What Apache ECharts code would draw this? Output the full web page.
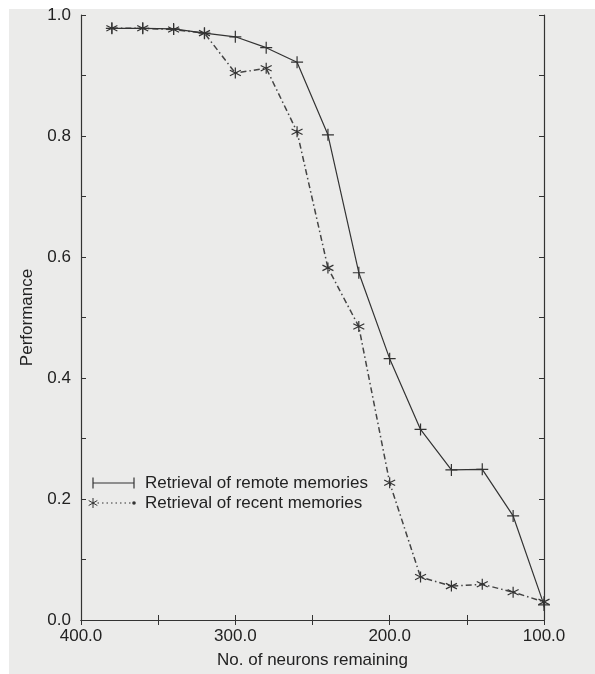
<!DOCTYPE html>
<html>
<head>
<meta charset="utf-8">
<script src="https://cdn.jsdelivr.net/npm/echarts@6/dist/echarts.min.js"></script>
<style>
  html, body { margin: 0; padding: 0; background: #ffffff; }
  #chart { width: 595px; height: 674px; }
</style>
</head>
<body>
<div id="chart"></div>
<script>
// Neurons remaining (x) and retrieval performance (y) for each condition
const neurons = [380, 360, 340, 320, 300, 280, 260, 240, 220, 200, 180, 160, 140, 120, 100];
const remoteMemories = [0.978, 0.978, 0.977, 0.970, 0.964, 0.946, 0.922, 0.802, 0.574, 0.432, 0.315, 0.248, 0.249, 0.172, 0.025];
const recentMemories = [0.978, 0.978, 0.976, 0.970, 0.904, 0.912, 0.807, 0.582, 0.485, 0.227, 0.071, 0.056, 0.059, 0.046, 0.030];
const seriesNames = ['Retrieval of remote memories', 'Retrieval of recent memories'];

const ink = '#333333';
const textInk = '#222222';
const font = '"Liberation Sans", Arial, Helvetica, sans-serif';
const fontSize = 17;

// plus and six-armed asterisk markers (stroked outlines)
const plusPath = 'path://M0,5L10,5M5,0L5,10';
const starPath = 'path://M5,0L5,10M0.67,2.5L9.33,7.5M0.67,7.5L9.33,2.5';

const pairs = (xs, ys) => xs.map((x, i) => [x, ys[i]]);

const chart = echarts.init(document.getElementById('chart'), null, { renderer: 'canvas' });

const tickCommon = { show: true, inside: true, length: 5, lineStyle: { color: ink, width: 1 } };
const minorCommon = { show: true, splitNumber: 2, length: 5, lineStyle: { color: ink, width: 1 } };

const seg = (x1, y1, x2, y2, extra) => ({
  type: 'line', shape: { x1, y1, x2, y2 },
  style: Object.assign({ stroke: ink, lineWidth: 1.2 }, extra || {})
});

chart.setOption({
  backgroundColor: '#ffffff',
  animation: false,
  graphic: [
    // paper tone of the page
    { type: 'rect', z: -10, silent: true, shape: { x: 9, y: 9, width: 600, height: 680 }, style: { fill: '#ebebea' } },
    // legend: remote memories
    { type: 'group', x: 88, y: 477, children: [
      seg(5, 6, 46, 6),
      seg(5, 0.5, 5, 11.5),
      seg(46, 0.5, 46, 11.5),
      { type: 'text', x: 57, y: 6, style: { text: seriesNames[0], fill: textInk, font: fontSize + 'px ' + font, verticalAlign: 'middle' } }
    ] },
    // legend: recent memories
    { type: 'group', x: 88, y: 497, children: [
      seg(5, 6, 46, 6, { lineDash: [1.5, 3] }),
      seg(5, 1, 5, 11, { lineWidth: 1 }),
      seg(0.67, 3.5, 9.33, 8.5, { lineWidth: 1 }),
      seg(0.67, 8.5, 9.33, 3.5, { lineWidth: 1 }),
      { type: 'circle', shape: { cx: 46, cy: 6, r: 1.8 }, style: { fill: ink } },
      { type: 'text', x: 57, y: 6, style: { text: seriesNames[1], fill: textInk, font: fontSize + 'px ' + font, verticalAlign: 'middle' } }
    ] }
  ],
  grid: { left: 81, right: 51, top: 15, bottom: 53, containLabel: false },
  xAxis: [
    {
      type: 'value', inverse: true, min: 100, max: 400, interval: 100,
      name: 'No. of neurons remaining', nameLocation: 'middle', nameGap: 32,
      nameTextStyle: { color: textInk, fontSize: fontSize, fontFamily: font },
      axisLine: { show: true, lineStyle: { color: ink, width: 1.2 } },
      axisTick: tickCommon, minorTick: minorCommon,
      axisLabel: { color: textInk, fontSize: fontSize, fontFamily: font, margin: 8, formatter: v => v.toFixed(1) },
      splitLine: { show: false }
    },
    {
      type: 'value', inverse: true, min: 100, max: 400, interval: 100, position: 'top',
      axisLine: { show: true, lineStyle: { color: ink, width: 1.2 } },
      axisTick: tickCommon, minorTick: minorCommon,
      axisLabel: { show: false }, splitLine: { show: false }
    }
  ],
  yAxis: [
    {
      type: 'value', min: 0, max: 1, interval: 0.2,
      name: 'Performance', nameLocation: 'middle', nameGap: 45,
      nameTextStyle: { color: textInk, fontSize: fontSize, fontFamily: font },
      axisLine: { show: true, lineStyle: { color: ink, width: 1.2 } },
      axisTick: tickCommon, minorTick: minorCommon,
      axisLabel: { color: textInk, fontSize: fontSize, fontFamily: font, margin: 10, formatter: v => v.toFixed(1) },
      splitLine: { show: false }
    },
    {
      type: 'value', min: 0, max: 1, interval: 0.2, position: 'right',
      axisLine: { show: true, lineStyle: { color: ink, width: 1.2 } },
      axisTick: tickCommon, minorTick: minorCommon,
      axisLabel: { show: false }, splitLine: { show: false }
    }
  ],
  series: [
    {
      name: seriesNames[0], type: 'line', xAxisIndex: 0, yAxisIndex: 0,
      data: pairs(neurons, remoteMemories),
      symbol: plusPath, symbolSize: 12,
      lineStyle: { color: ink, width: 1.2, type: 'solid' },
      itemStyle: { color: ink, borderColor: ink, borderWidth: 1.2 },
      z: 3
    },
    {
      name: seriesNames[1], type: 'line', xAxisIndex: 0, yAxisIndex: 0,
      data: pairs(neurons, recentMemories),
      symbol: starPath, symbolSize: 11,
      lineStyle: { color: '#444', width: 1.5, type: [6, 3, 1.5, 3] },
      itemStyle: { color: ink, borderColor: ink, borderWidth: 1.2 },
      z: 2
    }
  ]
});
</script>
</body>
</html>
